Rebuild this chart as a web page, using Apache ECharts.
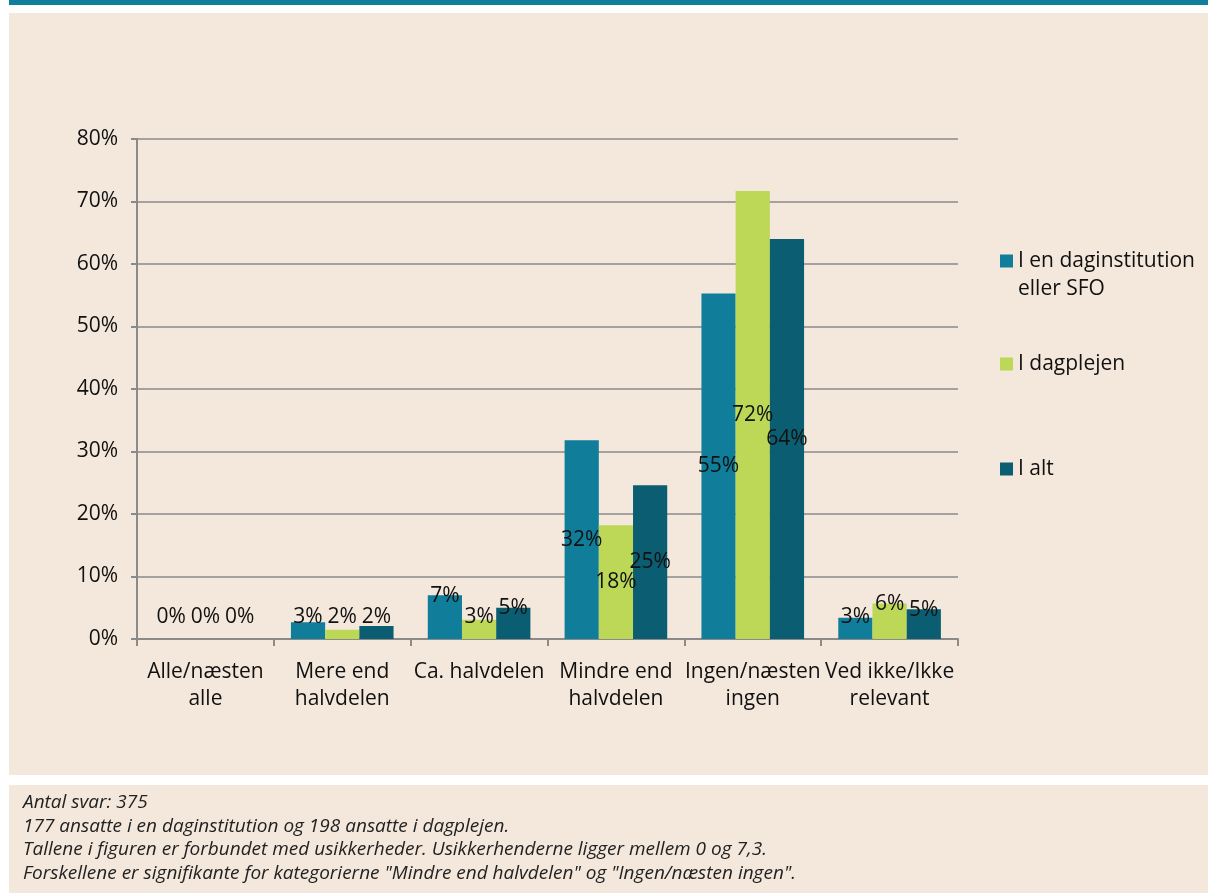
<!DOCTYPE html>
<html>
<head>
<meta charset="utf-8">
<script src="https://cdn.jsdelivr.net/npm/echarts@6/dist/echarts.min.js"></script>
<style>
  html, body { margin: 0; padding: 0; background: #ffffff; }
  #chart { width: 1208px; height: 893px; }
</style>
</head>
<body>
<div id="chart"></div>
<script>
// data
const categories = ["Alle/næsten\nalle", "Mere end\nhalvdelen", "Ca. halvdelen", "Mindre end\nhalvdelen", "Ingen/næsten\ningen", "Ved ikke/Ikke\nrelevant"];
const seriesNames = ["I en daginstitution eller SFO", "I dagplejen", "I alt"];
const daginstitution = [0, 2.7, 7.0, 31.8, 55.3, 3.4];
const dagplejen = [0, 1.5, 3.1, 18.2, 71.7, 5.7];
const iAlt = [0, 2.1, 5.0, 24.6, 64.0, 4.75];
const yTicks = [0, 10, 20, 30, 40, 50, 60, 70, 80];
const noteLines = [
  "Antal svar: 375",
  "177 ansatte i en daginstitution og 198 ansatte i dagplejen.",
  "Tallene i figuren er forbundet med usikkerheder. Usikkerhenderne ligger mellem 0 og 7,3.",
  "Forskellene er signifikante for kategorierne \"Mindre end halvdelen\" og \"Ingen/næsten ingen\"."
];

const colors = ["#107d9a", "#bdd757", "#0b5e72"];
const font = "'Open Sans', 'Noto Sans', sans-serif";
const panelBg = "#f4e8dc";
const fs = 21;

// small bars: Excel pushes the label up near the bar top
function toItems(vals) {
  return vals.map(v => {
    let label = {};
    if (v < 4) label = { position: "insideBottom", distance: 11 };
    else if (v < 10) label = { position: "top", distance: 0, offset: [0, 11] };
    return { value: v, label: label };
  });
}

function makeSeries(name, vals, color) {
  return {
    name: name,
    type: "bar",
    data: toItems(vals),
    barGap: "0%",
    barCategoryGap: "25%",
    itemStyle: { color: color },
    label: {
      show: true,
      position: "inside",
      color: "#111",
      fontFamily: font,
      fontSize: fs,
      formatter: p => Math.round(p.value) + "%"
    }
  };
}

const legendText = { fontFamily: font, fontSize: fs, color: "#111", lineHeight: 28 };

const chart = echarts.init(document.getElementById("chart"));
chart.setOption({
  animation: false,
  backgroundColor: "#ffffff",
  graphic: [
    { type: "rect", shape: { x: 9, y: 0, width: 1199, height: 5 }, style: { fill: "#0f7f9c" }, z: -10 },
    { type: "rect", shape: { x: 9, y: 13, width: 1199, height: 762 }, style: { fill: panelBg }, z: -10 },
    { type: "rect", shape: { x: 9, y: 785, width: 1199, height: 108 }, style: { fill: panelBg }, z: -10 },
    {
      type: "text", left: 23, top: 791,
      style: {
        text: noteLines.join("\n"),
        font: "italic 19px 'Open Sans', sans-serif",
        lineHeight: 23.5,
        fill: "#222"
      }
    }
  ],
  legend: [
    {
      data: [seriesNames[0]], orient: "vertical", left: 995, top: 214,
      itemWidth: 13, itemHeight: 13, icon: "rect",
      // leading empty line keeps the marker level with the first text line
      formatter: () => "\nI en daginstitution\neller SFO",
      textStyle: legendText
    },
    {
      data: [seriesNames[1]], orient: "vertical", left: 995, top: 345,
      itemWidth: 13, itemHeight: 13, icon: "rect",
      textStyle: legendText
    },
    {
      data: [seriesNames[2]], orient: "vertical", left: 995, top: 450,
      itemWidth: 13, itemHeight: 13, icon: "rect",
      textStyle: legendText
    }
  ],
  grid: { left: 137, right: 250, top: 139, bottom: 254, containLabel: false },
  xAxis: {
    type: "category",
    data: categories,
    axisLine: { lineStyle: { color: "#8a8a8a", width: 2 } },
    axisTick: { show: true, length: 7, lineStyle: { color: "#8a8a8a", width: 2 } },
    axisLabel: {
      interval: 0, margin: 20, color: "#111",
      fontFamily: font, fontSize: fs, lineHeight: 27
    }
  },
  yAxis: {
    type: "value",
    min: yTicks[0],
    max: yTicks[yTicks.length - 1],
    interval: 10,
    axisLine: { show: true, lineStyle: { color: "#8a8a8a", width: 2 } },
    axisTick: { show: true, length: 6, lineStyle: { color: "#8a8a8a", width: 2 } },
    splitLine: { lineStyle: { color: "#8a8a8a", width: 1.5 } },
    axisLabel: {
      margin: 19, color: "#111", fontFamily: font, fontSize: fs,
      formatter: v => v + "%"
    }
  },
  series: [
    makeSeries(seriesNames[0], daginstitution, colors[0]),
    makeSeries(seriesNames[1], dagplejen, colors[1]),
    makeSeries(seriesNames[2], iAlt, colors[2])
  ]
});
</script>
</body>
</html>
